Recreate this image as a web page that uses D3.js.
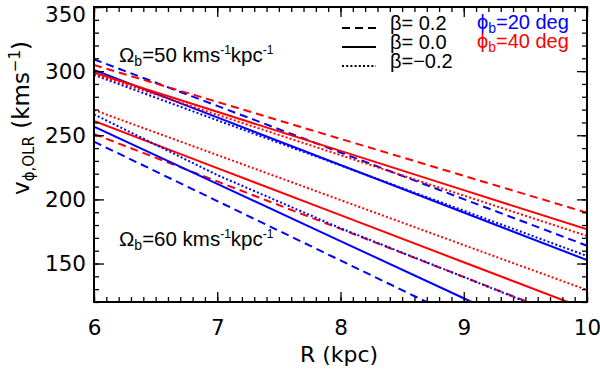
<!DOCTYPE html>
<html>
<head>
<meta charset="utf-8">
<script src="https://cdn.jsdelivr.net/npm/d3@7"></script>
<style>
  body { margin: 0; background: #fff; }
  text { font-family: "Liberation Sans", Arial, sans-serif; fill: #000; }
  .big { font-family: "DejaVu Sans", sans-serif; }
</style>
</head>
<body>
<svg id="chart" width="600" height="369"></svg>
<script>
// Data: v_phi,OLR (km/s) at R = 6..10 kpc
var radius = [6, 7, 8, 9, 10];

// Omega_b = 50 km/s/kpc
var om50phi20b02  = [309.2, 272.9, 236.6, 200.2, 163.9];
var om50phi40b02  = [304.8, 276.0, 247.2, 218.4, 189.6];
var om50phi20b00  = [300.9, 263.9, 226.8, 189.8, 152.7];
var om50phi40b00  = [298.8, 268.3, 237.8, 207.2, 176.7];
var om50phi20bm02 = [297.0, 261.7, 226.5, 191.2, 155.9];
var om50phi40bm02 = [297.5, 266.0, 234.5, 203.0, 171.5];

// Omega_b = 60 km/s/kpc
var om60phi20b02  = [245.0, 198.7, 152.4, 106.1, 59.8];
var om60phi40b02  = [251.0, 214.0, 177.0, 139.5, 102.0];
var om60phi20b00  = [256.7, 212.1, 167.5, 122.9, 78.3];
var om60phi40b00  = [261.1, 224.4, 187.7, 151.0, 114.3];
var om60phi20bm02 = [266.3, 219.0, 177.5, 139.5, 101.0];
var om60phi40bm02 = [269.7, 234.6, 199.5, 164.4, 129.4];

var xTicks = [6, 7, 8, 9, 10];
var yTicks = [150, 200, 250, 300, 350];
var betaLabels = ["\u03B2= 0.2", "\u03B2= 0.0", "\u03B2=\u22120.2"];

// Style config
var blue = "#0000ff";
var red = "#ff0000";
var dashStyles = ["8,5", null, "2,2.2"];

var series = [
  { values: om50phi20b02,  color: blue, beta: 0 },
  { values: om50phi40b02,  color: red,  beta: 0 },
  { values: om50phi20b00,  color: blue, beta: 1 },
  { values: om50phi40b00,  color: red,  beta: 1 },
  { values: om50phi20bm02, color: blue, beta: 2 },
  { values: om50phi40bm02, color: red,  beta: 2 },
  { values: om60phi20b02,  color: blue, beta: 0 },
  { values: om60phi40b02,  color: red,  beta: 0 },
  { values: om60phi20b00,  color: blue, beta: 1 },
  { values: om60phi40b00,  color: red,  beta: 1 },
  { values: om60phi20bm02, color: blue, beta: 2 },
  { values: om60phi40bm02, color: red,  beta: 2 }
];

var margin = { left: 94, right: 13, top: 7, bottom: 67 };
var width = 600 - margin.left - margin.right;
var height = 369 - margin.top - margin.bottom;

var svg = d3.select("#chart");
var g = svg.append("g")
    .attr("transform", "translate(" + margin.left + "," + margin.top + ")");

var x = d3.scaleLinear().domain([6, 10]).range([0, width]);
var y = d3.scaleLinear().domain([120, 350]).range([height, 0]);

g.append("clipPath").attr("id", "plotClip")
  .append("rect").attr("width", width).attr("height", height);

// Lines
var line = d3.line()
    .x(function(d, i) { return x(radius[i]); })
    .y(function(d) { return y(d); });

g.append("g").attr("clip-path", "url(#plotClip)")
  .selectAll("path")
  .data(series)
  .enter().append("path")
    .attr("d", function(s) { return line(s.values); })
    .attr("fill", "none")
    .attr("stroke", function(s) { return s.color; })
    .attr("stroke-width", 2)
    .attr("stroke-dasharray", function(s) { return dashStyles[s.beta]; });

// Axes: ticks inward on all four sides
var xMinor = d3.range(6, 10.001, 0.1);
var yMinor = d3.range(120, 350.001, 10);

function drawTicks(axisGen, transform) {
  var a = g.append("g").attr("transform", transform).call(axisGen);
  a.select(".domain").remove();
  a.selectAll("line").attr("stroke", "#000").attr("stroke-width", 1.3);
  return a;
}

drawTicks(d3.axisBottom(x).tickValues(xMinor).tickSize(-5).tickFormat(""), "translate(0," + height + ")");
drawTicks(d3.axisTop(x).tickValues(xMinor).tickSize(-5).tickFormat(""), "translate(0,0)");
drawTicks(d3.axisLeft(y).tickValues(yMinor).tickSize(-5).tickFormat(""), "translate(0,0)");
drawTicks(d3.axisRight(y).tickValues(yMinor).tickSize(-5).tickFormat(""), "translate(" + width + ",0)");

var xAxis = drawTicks(d3.axisBottom(x).tickValues(xTicks).tickSize(-10).tickPadding(18).tickFormat(d3.format("d")),
    "translate(0," + height + ")");
drawTicks(d3.axisTop(x).tickValues(xTicks).tickSize(-10).tickFormat(""), "translate(0,0)");
var yAxis = drawTicks(d3.axisLeft(y).tickValues(yTicks).tickSize(-10).tickPadding(8).tickFormat(d3.format("d")),
    "translate(0,0)");
drawTicks(d3.axisRight(y).tickValues(yTicks).tickSize(-10).tickFormat(""), "translate(" + width + ",0)");

xAxis.selectAll("text").attr("class", "big").attr("font-size", 21.5).attr("font-family", null);
yAxis.selectAll("text").attr("class", "big").attr("font-size", 21.5).attr("font-family", null);
// top label sits inside the frame
yAxis.selectAll("text").filter(function(d) { return d === 350; }).attr("y", 7.5);

g.append("rect")
    .attr("width", width).attr("height", height)
    .attr("fill", "none").attr("stroke", "#000").attr("stroke-width", 2);

// Axis titles
svg.append("text")
    .attr("class", "big")
    .attr("x", 339)
    .attr("y", 362)
    .attr("text-anchor", "middle")
    .attr("font-size", 22)
    .text("R (kpc)");

var yTitle = svg.append("text")
    .attr("class", "big")
    .attr("transform", "translate(29," + 118 + ") rotate(-90)")
    .attr("text-anchor", "middle")
    .attr("font-size", 23);
yTitle.append("tspan").text("v");
yTitle.append("tspan").attr("font-size", 15).attr("baseline-shift", "-5").text("\u03D5,OLR");
yTitle.append("tspan").text(" (kms");
yTitle.append("tspan").attr("font-size", 15).attr("baseline-shift", "9").text("\u22121");
yTitle.append("tspan").text(")");

// Omega_b annotations
function omegaLabel(val, px, py) {
  var t = svg.append("text").attr("x", px).attr("y", py).attr("font-size", 20.5);
  t.append("tspan").text("\u03A9");
  t.append("tspan").attr("font-size", 14).attr("baseline-shift", "-4").text("b");
  t.append("tspan").text("=" + val + " kms");
  t.append("tspan").attr("font-size", 12).attr("baseline-shift", "8").text("-1");
  t.append("tspan").text("kpc");
  t.append("tspan").attr("font-size", 12).attr("baseline-shift", "8").text("-1");
}
omegaLabel(50, 119, 62);
omegaLabel(60, 119, 246);

// Legend
var legendRows = [28, 47, 66];
legendRows.forEach(function(ly, i) {
  svg.append("line")
      .attr("x1", 342).attr("x2", 376)
      .attr("y1", ly).attr("y2", ly)
      .attr("stroke", "#000").attr("stroke-width", 2)
      .attr("stroke-dasharray", dashStyles[i]);
  svg.append("text")
      .attr("x", 390).attr("y", ly + 2)
      .attr("font-size", 20)
      .text(betaLabels[i]);
});

function phiLabel(val, color, py) {
  var t = svg.append("text").attr("x", 477).attr("y", py).attr("font-size", 20).attr("fill", color);
  t.append("tspan").text("\u03D5");
  t.append("tspan").attr("font-size", 14).attr("baseline-shift", "-4").text("b");
  t.append("tspan").text("=" + val + " deg");
  t.selectAll("tspan").attr("fill", color);
}
phiLabel(20, blue, 29);
phiLabel(40, red, 48);
</script>
</body>
</html>
